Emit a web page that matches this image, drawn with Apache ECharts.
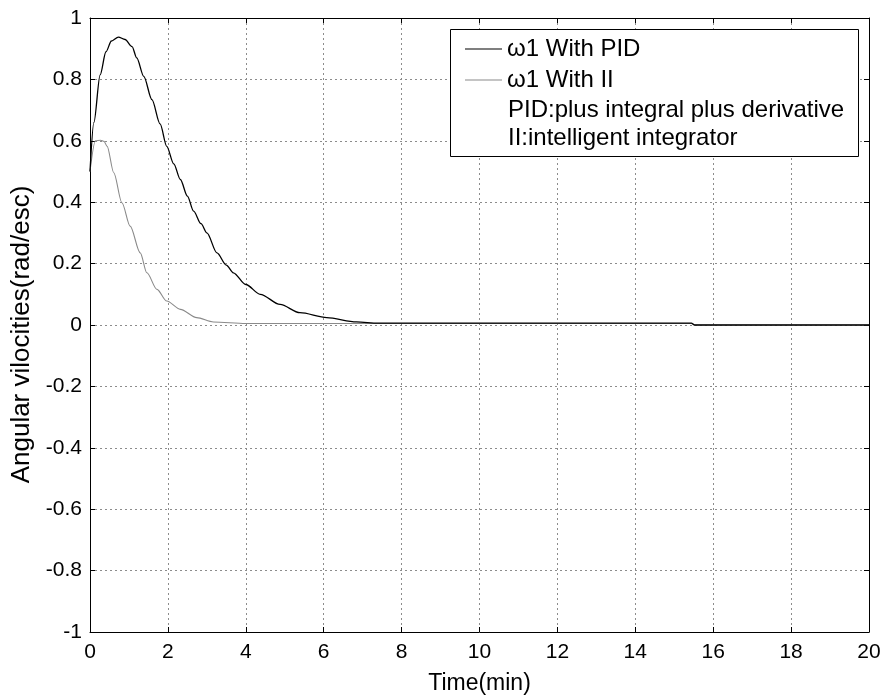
<!DOCTYPE html>
<html>
<head>
<meta charset="utf-8">
<script src="https://cdn.jsdelivr.net/npm/echarts@6/dist/echarts.min.js"></script>
<style>html,body{margin:0;padding:0;background:#fff;}#chart{width:886px;height:700px;}</style>
</head>
<body>
<div id="chart"></div>
<script>
// ---- data ----
var pidTime = [0, 0.1, 0.26, 0.41, 0.55, 0.73, 0.9, 1.08, 1.2, 1.38, 1.59, 1.8, 1.97, 2.15, 2.32, 2.5, 2.66, 2.85, 3.0, 3.26, 3.5, 3.68, 4.0, 4.37, 4.88, 5.39, 6.08, 6.84, 7.4, 10, 15.44, 15.52, 20];
var pidVal  = [0.5, 0.66, 0.815, 0.89, 0.925, 0.938, 0.93, 0.907, 0.87, 0.81, 0.734, 0.655, 0.582, 0.525, 0.474, 0.42, 0.371, 0.33, 0.30, 0.235, 0.195, 0.17, 0.132, 0.10, 0.067, 0.040, 0.024, 0.01, 0.006, 0.006, 0.006, 0, 0];
var iiTime = [0, 0.14, 0.27, 0.36, 0.44, 0.61, 0.82, 1.03, 1.29, 1.46, 1.72, 1.97, 2.32, 2.74, 3.17, 4.0, 10, 15.44, 15.52, 20];
var iiVal  = [0.5, 0.6, 0.602, 0.598, 0.582, 0.496, 0.398, 0.322, 0.235, 0.17, 0.116, 0.078, 0.051, 0.024, 0.01, 0.005, 0.005, 0.005, 0, 0];
var xTicks = [0, 2, 4, 6, 8, 10, 12, 14, 16, 18, 20];
var yTicks = [-1, -0.8, -0.6, -0.4, -0.2, 0, 0.2, 0.4, 0.6, 0.8, 1];
var seriesNames = ['\u03c91 With PID', '\u03c91 With II'];
var noteLines = ['PID:plus integral plus derivative', 'II:intelligent integrator'];
var xTitle = 'Time(min)';
var yTitle = 'Angular vilocities(rad/esc)';

function zip(a, b) { return a.map(function (t, i) { return [t, b[i]]; }); }

var FONT = '"Liberation Sans", Arial, Helvetica, sans-serif';
var chart = echarts.init(document.getElementById('chart'), null, {renderer: 'canvas'});

var gridLine = {show: true, lineStyle: {color: '#8c8c8c', type: [2, 3], width: 1}};
var frameLine = {show: true, onZero: false, lineStyle: {color: '#000', width: 1}};

chart.setOption({
  animation: false,
  backgroundColor: '#fff',
  grid: {left: 90, right: 17, top: 18, bottom: 67, containLabel: false},
  xAxis: [{
    type: 'value', min: 0, max: 20, interval: 2, position: 'bottom',
    name: xTitle, nameLocation: 'middle', nameGap: 40,
    nameTextStyle: {fontFamily: FONT, fontSize: 23, color: '#000'},
    axisLine: frameLine,
    axisTick: {show: true, inside: true, length: 5, customValues: xTicks, lineStyle: {color: '#000'}},
    axisLabel: {show: true, margin: 10, customValues: xTicks, fontFamily: FONT, fontSize: 21, color: '#000'},
    splitLine: gridLine
  }, {
    type: 'value', min: 0, max: 20, interval: 2, position: 'top',
    axisLine: frameLine,
    axisTick: {show: true, inside: true, length: 5, customValues: xTicks, lineStyle: {color: '#000'}},
    axisLabel: {show: false},
    splitLine: {show: false}
  }],
  yAxis: [{
    type: 'value', min: -1, max: 1, interval: 0.2, position: 'left',
    name: yTitle, nameLocation: 'middle', nameGap: 37,
    nameTextStyle: {fontFamily: FONT, fontSize: 26, color: '#000', padding: [0, 19, 0, 0]},
    axisLine: frameLine,
    axisTick: {show: true, inside: true, length: 5, customValues: yTicks, lineStyle: {color: '#000'}},
    axisLabel: {show: true, margin: 8, customValues: yTicks, fontFamily: FONT, fontSize: 21, color: '#000'},
    splitLine: gridLine
  }, {
    type: 'value', min: -1, max: 1, interval: 0.2, position: 'right',
    axisLine: frameLine,
    axisTick: {show: true, inside: true, length: 5, customValues: yTicks, lineStyle: {color: '#000'}},
    axisLabel: {show: false},
    splitLine: {show: false}
  }],
  legend: {
    data: seriesNames,
    icon: 'rect',
    orient: 'vertical', left: 465, top: 37, padding: 0,
    itemWidth: 37, itemHeight: 1, itemGap: 7,
    textStyle: {fontFamily: FONT, fontSize: 24, color: '#000'},
    z: 10
  },
  graphic: [
    {type: 'rect', z: 8, shape: {x: 450.5, y: 29.5, width: 408, height: 127},
     style: {fill: '#fff', stroke: '#000', lineWidth: 1}},
    {type: 'text', z: 9, x: 508, y: 110, style: {text: noteLines[0], font: '24px ' + FONT, fill: '#000', verticalAlign: 'middle'}},
    {type: 'text', z: 9, x: 508, y: 138.5, style: {text: noteLines[1], font: '24px ' + FONT, fill: '#000', verticalAlign: 'middle'}}
  ],
  series: [{
    name: seriesNames[1], type: 'line', data: zip(iiTime, iiVal),
    showSymbol: false, symbol: 'none', smooth: 0.3, smoothMonotone: 'x',
    lineStyle: {color: '#8a8a8a', width: 1.1}, itemStyle: {color: '#8a8a8a'}
  }, {
    name: seriesNames[0], type: 'line', data: zip(pidTime, pidVal),
    showSymbol: false, symbol: 'none', smooth: 0.3, smoothMonotone: 'x',
    lineStyle: {color: '#000', width: 1.3}, itemStyle: {color: '#000'}
  }]
});
</script>
</body>
</html>
